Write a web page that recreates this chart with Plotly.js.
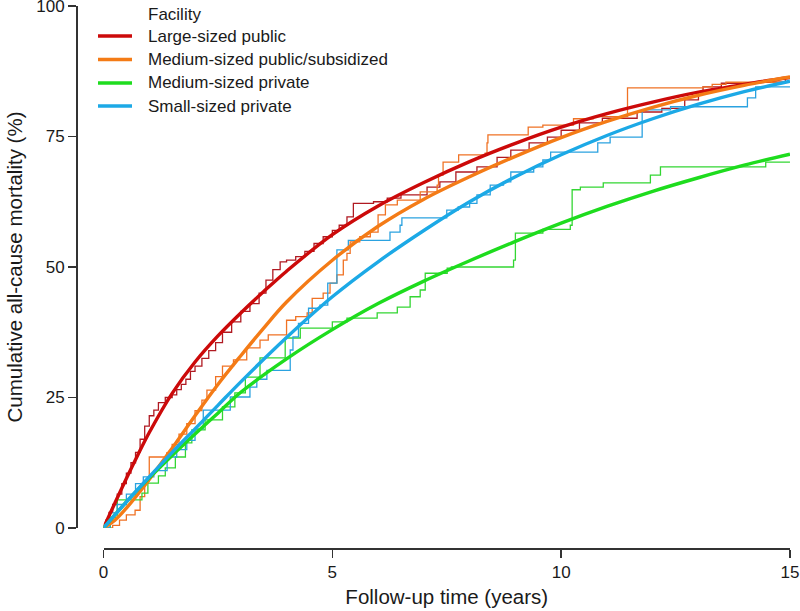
<!DOCTYPE html>
<html>
<head>
<meta charset="utf-8">
<script src="https://cdn.plot.ly/plotly-3.0.1.min.js"></script>
<style>html,body{margin:0;padding:0;background:#fff;}#chart{width:800px;height:611px;}</style>
</head>
<body>
<div id="chart"></div>
<script>
// ---- Data ----
var legendTitle = "Facility";
var facilities = ["Large-sized public", "Medium-sized public/subsidized", "Medium-sized private", "Small-sized private"];
var xTicks = [0, 5, 10, 15];
var yTicks = [0, 25, 50, 75, 100];

// Kaplan-Meier style step curves (thin lines)
var redStepT = [0,0.05,0.12,0.2,0.3,0.4,0.5,0.6,0.7,0.8,0.9,1.0,1.1,1.2,1.35,1.5,1.6,1.7,1.8,1.9,2.0,2.15,2.3,2.45,2.6,2.8,3.0,3.2,3.4,3.55,3.7,3.86,4.0,4.2,4.4,4.6,4.8,5.0,5.15,5.32,5.46,5.9,6.2,6.5,7.07,7.35,7.7,8.16,8.6,8.9,9.3,9.7,10.0,10.4,10.9,11.66,12.2,12.7,13.0,13.1,13.5,14.3,14.9,15.0];
var redStepY = [0,1.5,3,4.5,6.5,8.5,10.5,12.5,14.5,17,19.5,21.5,22.6,24,25,25.5,26.5,27.5,28.5,30,31,32.5,34,35.5,37.5,39.5,41.5,43,45,47.5,49.5,51,51.3,52,53,54.5,55.8,57,58,59.6,62.2,62.5,63.2,63.8,65.3,66.3,68.2,69.2,71,72.4,73.8,74.9,76.2,77.6,78.5,79.7,80.4,82,83.5,84.5,85.2,85.4,86.2,86.2];

var orangeStepT = [0,0.2,0.35,0.5,0.69,0.8,0.9,1.0,1.38,1.5,1.65,1.82,2.0,2.15,2.26,2.45,2.6,2.84,3.13,3.42,3.6,4.0,4.2,4.45,4.56,4.8,4.95,5.1,5.24,5.32,5.39,5.6,5.83,6.0,6.16,6.42,6.92,7.29,7.32,7.42,7.76,8.34,8.38,8.4,9.28,9.6,10.27,10.7,11.45,13.1,13.3,13.6,15.0];
var orangeStepY = [0,0.5,1.5,2.5,3.4,6,9,13.6,14.4,16,18,20,22.5,24.5,26.4,29,31,32.2,34.5,36,37,39.8,40.5,41.2,44,45,46.9,48.5,51.3,52.6,54.8,55.8,56.7,60,61.9,62.8,64.4,65.7,67.6,70.1,71.5,71.8,73.8,75.3,76.8,77.2,78.4,78.8,84.3,84.5,85,85.4,85.4];

var greenStepT = [0,0.15,0.3,0.84,0.97,1.2,1.35,1.57,1.79,1.93,2.22,2.6,2.87,3.1,3.42,3.97,4.3,5.0,5.32,5.98,6.42,6.7,6.92,7.03,7.51,7.6,8.96,9.0,9.6,10.2,10.24,10.42,10.92,11.95,12.17,14.47,15.0];
var greenStepY = [0,2,5.4,6.7,8.6,10,11.5,13.6,16.3,18.8,20.7,23.2,25.9,28.9,32.6,36.4,38.3,39.5,40.2,41.2,42.3,44.3,45.6,48.8,49.8,50,51.3,56.5,57.2,58,64.8,65.3,66.1,67.6,69.2,70.1,70.1];

var blueStepT = [0,0.14,0.3,0.5,0.7,0.87,1.1,1.39,1.6,1.82,2.0,2.18,2.77,3.2,3.35,3.57,4.08,4.14,4.26,4.48,4.73,4.9,5.1,5.35,6.26,6.48,6.52,7.5,7.75,8.0,8.16,8.45,8.74,8.9,9.4,9.6,9.77,10.8,11.07,11.77,12.39,14.07,14.25,15.0];
var blueStepY = [0,2.9,4.5,6.5,8.5,9.8,11,13.6,15,16.8,19,22.6,25.1,27,28.5,30.2,34.1,36.6,39.2,42.1,42.7,46.9,53.3,55.1,56.7,58,59.4,60.9,61.5,62.2,63.8,65.7,66.3,68.2,69.2,70.5,72,73.8,74.9,80.1,80.7,82.4,84.5,84.5];

// Fitted (smooth) curves (thick lines)
var redFitT = [0,0.25,0.5,0.75,1,1.5,2,2.5,3,3.5,4,5,6,7,8,9,10,11,12,13,14,15];
var redFitY = [0,4.8,9.5,14,18.3,25.8,31.8,36.8,41.2,45.3,49.2,56.2,61.7,66.2,70.2,73.7,76.8,79.4,81.6,83.5,85,86.3];

var orangeFitT = [0,0.25,0.5,1,1.5,2,2.5,3,3.5,4,5,6,7,8,9,10,11,12,13,14,15];
var orangeFitY = [0,1.5,3.8,9.3,15.3,21.5,27.5,33,38.3,43.3,51.3,57.8,63,67.3,71.2,74.8,77.9,80.6,82.9,84.8,86.4];

var greenFitT = [0,0.5,1,1.5,2,2.5,3,4,5,6,7,8,9,10,11,12,13,14,15];
var greenFitY = [0,5,9.6,13.9,18,22,26,32.4,38,43,47.3,51.2,54.9,58.4,61.6,64.5,67.1,69.5,71.6];

var blueFitT = [0,0.5,1,1.5,2,2.5,3,4,5,6,7,8,9,10,11,12,13,14,15];
var blueFitY = [0,5,9.8,14.5,19,23.5,28,36.5,44.3,51,57,62.5,67.3,71.5,75.2,78.4,81.2,83.6,85.6];

// ---- Styles ----
var thickColors = ["#CC0A0A", "#F47B16", "#1EDC1E", "#1CA9E6"];
var thinColors  = ["#B01A22", "#F07224", "#33D633", "#2BA2E0"];
var FONT = "Liberation Sans, Arial, Helvetica, sans-serif";
var TXT = "#1a1a1a";

// plot-area geometry (pixels) used to place the hand-drawn legend
var PL = 76, PR = 790, PT = 6, PB = 548;
function px2x(p) { return (p - PL) / (PR - PL); }
function px2y(p) { return (PB - p) / (PB - PT); }

var steps = [[redStepT, redStepY], [orangeStepT, orangeStepY], [greenStepT, greenStepY], [blueStepT, blueStepY]];
var fits  = [[redFitT, redFitY], [orangeFitT, orangeFitY], [greenFitT, greenFitY], [blueFitT, blueFitY]];

var traces = [];
steps.forEach(function (s, i) {
  traces.push({
    x: s[0], y: s[1], type: "scatter", mode: "lines",
    line: {shape: "hv", color: thinColors[i], width: 1.3},
    showlegend: false, hoverinfo: "skip", name: facilities[i] + " (observed)"
  });
});
fits.forEach(function (f, i) {
  traces.push({
    x: f[0], y: f[1], type: "scatter", mode: "lines",
    line: {shape: "spline", smoothing: 1, color: thickColors[i], width: 3.4},
    showlegend: false, name: facilities[i]
  });
});

// Legend (R-style, drawn as shapes + text)
var legendRows = [36, 59.5, 83, 106];
var shapes = [], annotations = [];
annotations.push({
  text: legendTitle, xref: "paper", yref: "paper", x: px2x(146), y: px2y(14),
  xanchor: "left", yanchor: "middle", showarrow: false,
  font: {family: FONT, size: 17, color: TXT}
});
facilities.forEach(function (name, i) {
  shapes.push({
    type: "line", xref: "paper", yref: "paper",
    x0: px2x(98), x1: px2x(132), y0: px2y(legendRows[i]), y1: px2y(legendRows[i]),
    line: {color: thickColors[i], width: 3.4}
  });
  annotations.push({
    text: name, xref: "paper", yref: "paper", x: px2x(146), y: px2y(legendRows[i]),
    xanchor: "left", yanchor: "middle", showarrow: false,
    font: {family: FONT, size: 17, color: TXT}
  });
});

var layout = {
  width: 800, height: 611,
  margin: {l: PL, r: 800 - PR, t: PT, b: 611 - PB, pad: 0},
  paper_bgcolor: "#fff", plot_bgcolor: "#fff",
  font: {family: FONT, color: TXT},
  showlegend: false,
  xaxis: {
    domain: [px2x(103.5), 1], range: [0, 15.0005], anchor: "free", position: 0,
    showline: true, linecolor: "#333", linewidth: 1.5,
    ticks: "outside", ticklen: 8, tickwidth: 1.5, tickcolor: "#333",
    tickvals: xTicks, ticktext: xTicks.map(String), ticklabeloverflow: "allow",
    tickfont: {family: FONT, size: 17, color: TXT},
    showgrid: false, zeroline: false,
    title: {text: "Follow-up time (years)", font: {family: FONT, size: 20.5, color: TXT}, standoff: 8}
  },
  yaxis: {
    domain: [px2y(528), 1], range: [0, 100.003], anchor: "free", position: 0,
    showline: true, linecolor: "#333", linewidth: 1.5,
    ticks: "outside", ticklen: 8, tickwidth: 1.5, tickcolor: "#333",
    tickvals: yTicks, ticktext: yTicks.map(String), ticklabeloverflow: "allow",
    tickfont: {family: FONT, size: 17, color: TXT},
    showgrid: false, zeroline: false,
    title: {text: "Cumulative all-cause mortality (%)", font: {family: FONT, size: 20.5, color: TXT}, standoff: 6}
  },
  shapes: shapes,
  annotations: annotations
};

Plotly.newPlot("chart", traces, layout, {displayModeBar: false, staticPlot: true});
</script>
</body>
</html>
